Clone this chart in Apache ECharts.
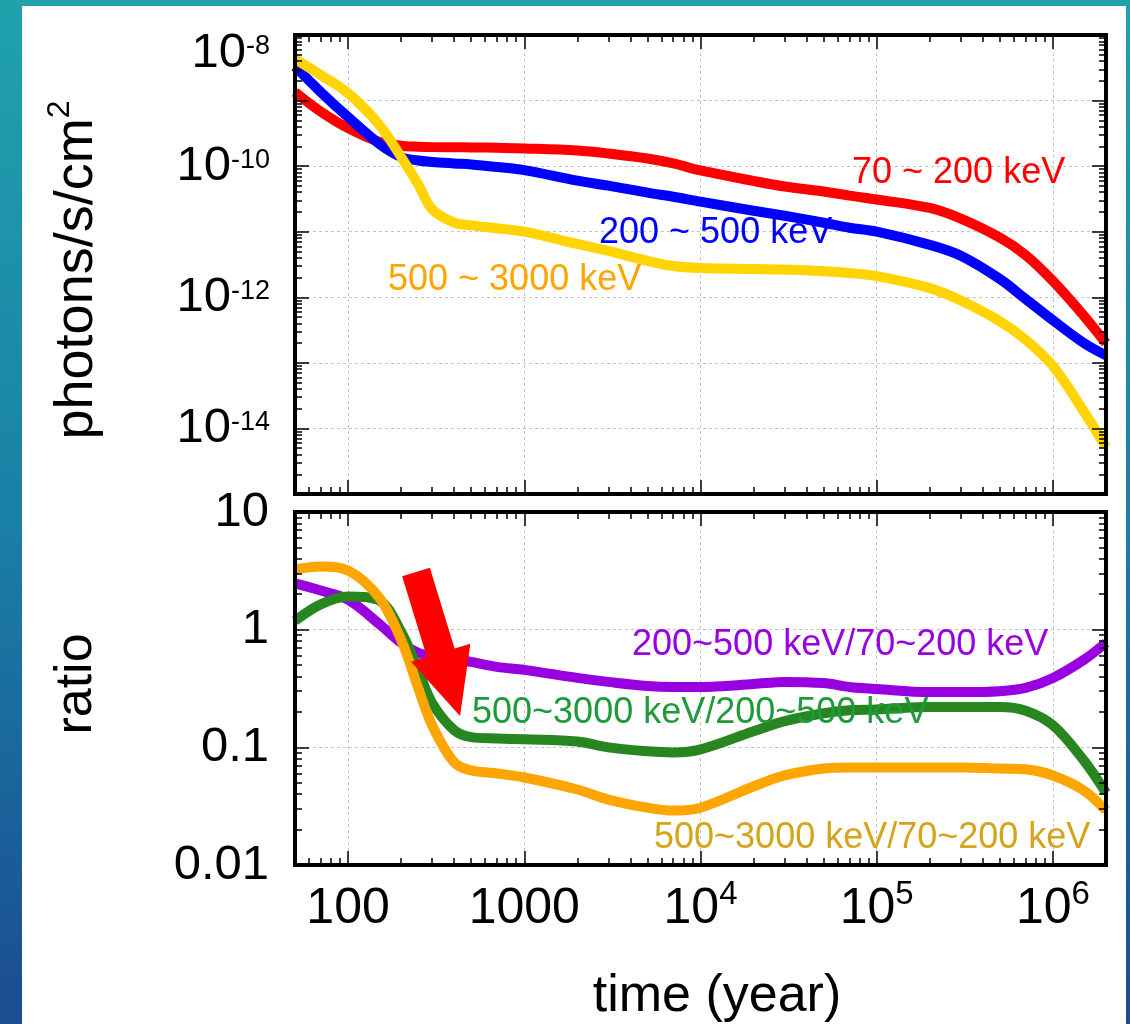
<!DOCTYPE html>
<html>
<head>
    <meta charset="utf-8">
    <title>photon flux and ratio</title>
    <script src="https://cdn.jsdelivr.net/npm/echarts@6/dist/echarts.min.js"></script>
    <style>
        html, body { margin: 0; padding: 0; }
        #main { width: 1130px; height: 1024px; }
    </style>
</head>
<body>
    <div id="main"></div>
    <script type="text/javascript">
        // time (year), shared by every curve
        var timeYears = [50, 70, 100, 150, 200, 250, 300, 400, 500, 700, 1000, 2000, 3000, 5000, 7000,
            1e4, 2e4, 3e4, 5e4, 7e4, 1e5, 2e5, 3e5, 5e5, 7e5, 1e6, 1.5e6, 2e6];

        // photons/s/cm2
        var flux70to200 = [1.35e-9, 6.8e-10, 3.8e-10, 2.35e-10, 2.05e-10, 1.98e-10, 1.95e-10, 1.94e-10, 1.93e-10, 1.9e-10, 1.86e-10,
            1.73e-10, 1.56e-10, 1.31e-10, 1.1e-10, 8.6e-11, 5.95e-11, 4.9e-11, 4.1e-11, 3.55e-11, 3.1e-11, 2.3e-11,
            1.58e-11, 8.1e-12, 4.4e-12, 1.77e-12, 5.2e-13, 2.0e-13];
        var flux200to500 = [3.3e-9, 1.35e-9, 5.6e-10, 2.2e-10, 1.38e-10, 1.22e-10, 1.16e-10, 1.1e-10, 1.06e-10, 9.7e-11, 8.7e-11,
            6.0e-11, 5.05e-11, 3.94e-11, 3.42e-11, 2.87e-11, 2.09e-11, 1.75e-11, 1.37e-11, 1.15e-11, 1.0e-11, 6.3e-12,
            4.3e-12, 1.9e-12, 9.4e-13, 4.46e-13, 2.0e-13, 1.3e-13];
        var flux500to3000 = [4.3e-9, 2.45e-9, 1.3e-9, 4.3e-10, 1.38e-10, 5.3e-11, 2.2e-11, 1.38e-11, 1.25e-11, 1.13e-11, 1.0e-11,
            6.5e-12, 5.1e-12, 3.6e-12, 3.0e-12, 2.8e-12, 2.7e-12, 2.65e-12, 2.5e-12, 2.34e-12, 2.1e-12, 1.38e-12,
            8.9e-13, 4.3e-13, 2.25e-13, 8.9e-14, 1.8e-14, 5.2e-15];

        // ratios
        var ratioMidLow = [2.47, 2.15, 1.8, 1.12, 0.774, 0.636, 0.6, 0.565, 0.532, 0.483, 0.455,
            0.389, 0.36, 0.332, 0.326, 0.326, 0.345, 0.36, 0.352, 0.326, 0.313, 0.295,
            0.295, 0.3, 0.32, 0.389, 0.555, 0.774];
        var ratioHighMid = [1.19, 1.64, 1.91, 1.77, 0.96, 0.455, 0.238, 0.14, 0.122, 0.119, 0.117,
            0.112, 0.1, 0.0925, 0.0905, 0.096, 0.137, 0.167, 0.195, 0.207, 0.21, 0.22,
            0.22, 0.22, 0.205, 0.154, 0.077, 0.041];
        var ratioHighLow = [3.26, 3.45, 3.19, 1.88, 0.82, 0.32, 0.154, 0.0745, 0.0636, 0.06, 0.0554,
            0.0438, 0.036, 0.0307, 0.029, 0.0307, 0.0465, 0.0577, 0.066, 0.0675, 0.0675, 0.0675,
            0.0675, 0.066, 0.065, 0.0577, 0.0429, 0.029];

        // tick labels
        var xTickValues = [100, 1000, 1e4, 1e5, 1e6];
        var xTickLabels = ['100', '1000', '10^4', '10^5', '10^6'];
        var fluxTickValues = [1e-14, 1e-12, 1e-10, 1e-8];
        var fluxTickLabels = ['10^-14', '10^-12', '10^-10', '10^-8'];
        var ratioTickValues = [0.01, 0.1, 1, 10];
        var ratioTickLabels = ['0.01', '0.1', '1', '10'];

        // arrow, in (time, ratio)
        var arrowTail = [243, 3.09];
        var arrowTip = [432, 0.185];

        var FONT = 'Arial, "Liberation Sans", sans-serif';

        function decades(lo, hi) {
            var a = [];
            for (var e = lo; e <= hi; e++) a.push(Math.pow(10, e));
            return a;
        }
        function minors(lo, hi, min, max) {
            var a = [];
            for (var e = lo; e <= hi; e++) {
                for (var k = 2; k <= 9; k++) {
                    var v = k * Math.pow(10, e);
                    if (v > min && v < max) a.push(v);
                }
            }
            return a;
        }

        function toRich(label) {
            var p = label.split('^');
            if (p.length === 2) return '{b|' + p[0] + '}{s|' + p[1] + '}';
            return '{b|' + label + '}';
        }
        function makeFormatter(values, labels) {
            return function (v) {
                for (var i = 0; i < values.length; i++) {
                    if (Math.abs(Math.log10(v) - Math.log10(values[i])) < 1e-6) return toRich(labels[i]);
                }
                return '';
            };
        }
        // token "height" sets where a top-aligned exponent sits
        var yRich = {
            b: { fontSize: 49, lineHeight: 36, fontFamily: FONT, color: '#000' },
            s: { fontSize: 27, height: 24, lineHeight: 24, fontFamily: FONT, color: '#000', verticalAlign: 'top' }
        };
        var xRich = {
            b: { fontSize: 50, lineHeight: 36, fontFamily: FONT, color: '#000' },
            s: { fontSize: 33, height: 8, lineHeight: 8, fontFamily: FONT, color: '#000', verticalAlign: 'top' }
        };

        var frameLine = { show: true, lineStyle: { color: '#000', width: 4, cap: 'square' } };
        function ticks(values, len) {
            return { show: true, inside: true, length: len, customValues: values, lineStyle: { color: '#000', width: 1.5 } };
        }

        function axisSet(dim, g, min, max, major, minor, label) {
            var pos = dim === 'x' ? ['bottom', 'top'] : ['left', 'right'];
            var base = {
                type: 'log', logBase: 10, gridIndex: g, min: min, max: max, z: 10,
                axisLabel: { show: false }, splitLine: { show: false },
                axisLine: { show: false }, axisTick: { show: false }
            };
            return [
                Object.assign({}, base, { position: pos[0], axisLine: frameLine, axisTick: ticks(major, 14), axisLabel: label || { show: false } }),
                Object.assign({}, base, {
                    position: pos[0], z: 0,
                    axisTick: { show: true, customValues: major, length: 0, lineStyle: { color: 'rgba(0,0,0,0)' } },
                    splitLine: { show: true, lineStyle: { color: '#c4c4c4', width: 1, type: [3, 3] } }
                }),
                Object.assign({}, base, { position: pos[0], axisTick: ticks(minor, 7) }),
                Object.assign({}, base, { position: pos[1], axisLine: frameLine, axisTick: ticks(major, 14) }),
                Object.assign({}, base, { position: pos[1], axisTick: ticks(minor, 7) })
            ];
        }

        var xMajor = decades(2, 6), xMinor = minors(1, 6, 50, 2e6);
        var fluxMajor = decades(-15, -8), fluxMinor = minors(-15, -9, 1e-15, 1e-8);
        var ratioMajor = decades(-2, 1), ratioMinor = minors(-2, 0, 0.01, 10);

        var xLabel = {
            show: true, customValues: xTickValues, margin: 26,
            formatter: makeFormatter(xTickValues, xTickLabels), rich: xRich
        };
        var fluxLabel = {
            show: true, customValues: fluxTickValues, margin: 25,
            verticalAlignMaxLabel: 'top',
            formatter: makeFormatter(fluxTickValues, fluxTickLabels), rich: yRich
        };
        var ratioLabel = {
            show: true, customValues: ratioTickValues, margin: 26,
            formatter: makeFormatter(ratioTickValues, ratioTickLabels), rich: yRich
        };

        var xAxes = axisSet('x', 0, 50, 2e6, xMajor, xMinor, null)
            .concat(axisSet('x', 1, 50, 2e6, xMajor, xMinor, xLabel));
        var yAxes = axisSet('y', 0, 1e-15, 1e-8, fluxMajor, fluxMinor, fluxLabel)
            .concat(axisSet('y', 1, 0.01, 10, ratioMajor, ratioMinor, ratioLabel));

        function pairs(vals) {
            return timeYears.map(function (t, i) { return [t, vals[i]]; });
        }
        function curve(name, vals, color, g, width) {
            return {
                name: name, type: 'line', data: pairs(vals),
                xAxisIndex: g * 5, yAxisIndex: g * 5,
                smooth: 0.35, showSymbol: false, symbol: 'none',
                lineStyle: { color: color, width: width, cap: 'butt', join: 'round' },
                z: 3, animation: false
            };
        }

        var myChart = echarts.init(document.getElementById('main'), null, { renderer: 'canvas' });

        var option = {
            animation: false,
            backgroundColor: '#ffffff',
            grid: [
                { left: 295, top: 35, width: 811, height: 459, containLabel: false, outerBoundsMode: 'none' },
                { left: 295, top: 512, width: 811, height: 353, containLabel: false, outerBoundsMode: 'none' }
            ],
            xAxis: xAxes,
            yAxis: yAxes,
            series: [
                curve('70 ~ 200 keV', flux70to200, '#ff0000', 0, 10),
                curve('200 ~ 500 keV', flux200to500, '#0000ff', 0, 10),
                curve('500 ~ 3000 keV', flux500to3000, '#ffd400', 0, 10),
                curve('200~500 keV/70~200 keV', ratioMidLow, '#9900e0', 1, 10),
                curve('500~3000 keV/200~500 keV', ratioHighMid, '#27861f', 1, 10),
                curve('500~3000 keV/70~200 keV', ratioHighLow, '#ffa500', 1, 10)
            ]
        };
        myChart.setOption(option);

        // text labels in the plots (pixel anchors: left edge, middle)
        var notes = [
            { text: '70 ~ 200 keV', color: '#ff0000', x: 852, y: 173 },
            { text: '200 ~ 500 keV', color: '#0000ff', x: 599, y: 233 },
            { text: '500 ~ 3000 keV', color: '#ffa500', x: 388, y: 280 },
            { text: '200~500 keV/70~200 keV', color: '#9900e0', x: 632, y: 645 },
            { text: '500~3000 keV/200~500 keV', color: '#1f9a3a', x: 472, y: 713 },
            { text: '500~3000 keV/70~200 keV', color: '#d4a41a', x: 654, y: 838 }
        ];

        var elements = [
            {
                type: 'rect', id: 'bg', z: -100, silent: true,
                shape: { x: 0, y: 0, width: 1130, height: 1024 },
                style: {
                    fill: new echarts.graphic.LinearGradient(0, 0, 0, 1, [
                        { offset: 0, color: '#20a2ad' },
                        { offset: 0.5, color: '#1a80a6' },
                        { offset: 1, color: '#1b4c92' }
                    ])
                }
            },
            {
                type: 'rect', id: 'panel', z: -99, silent: true,
                shape: { x: 22, y: 6, width: 1104, height: 1018 },
                style: { fill: '#ffffff' }
            },
            {
                type: 'text', id: 'ytitle1', z: 100, x: 77, y: 270, rotation: Math.PI / 2,
                style: {
                    text: '{a|photons/s/cm}{s|2}', align: 'center', verticalAlign: 'middle',
                    rich: {
                        a: { fontSize: 54, lineHeight: 40, fontFamily: FONT, fill: '#000' },
                        s: { fontSize: 32, height: 6, lineHeight: 6, fontFamily: FONT, fill: '#000', verticalAlign: 'top' }
                    }
                }
            },
            {
                type: 'text', id: 'ytitle2', z: 100, x: 77, y: 684, rotation: Math.PI / 2,
                style: { text: 'ratio', align: 'center', verticalAlign: 'middle', fontSize: 52, fontFamily: FONT, fill: '#000' }
            },
            {
                type: 'text', id: 'xtitle', z: 100, x: 717, y: 997,
                style: { text: 'time (year)', align: 'center', verticalAlign: 'middle', fontSize: 52, fontFamily: FONT, fill: '#000' }
            }
        ];
        notes.forEach(function (n, i) {
            elements.push({
                type: 'text', id: 'note' + i, z: 100, x: n.x, y: n.y,
                style: { text: n.text, align: 'left', verticalAlign: 'middle', fontSize: 36, fontFamily: FONT, fill: n.color }
            });
        });

        // arrow from data coordinates on the ratio panel
        var finder = { xAxisIndex: 5, yAxisIndex: 5 };
        var p0 = myChart.convertToPixel(finder, arrowTail);
        var p1 = myChart.convertToPixel(finder, arrowTip);
        var dx = p1[0] - p0[0], dy = p1[1] - p0[1];
        var len = Math.sqrt(dx * dx + dy * dy);
        var ux = dx / len, uy = dy / len, nx = -uy, ny = ux;
        var shaftHalf = 14.5, headHalf = 31, headLen = 66;
        var bx = p1[0] - ux * headLen, by = p1[1] - uy * headLen;
        elements.push({
            type: 'polygon', id: 'arrow', z: 101,
            shape: {
                points: [
                    [p0[0] + nx * shaftHalf, p0[1] + ny * shaftHalf],
                    [bx + nx * shaftHalf, by + ny * shaftHalf],
                    [bx + nx * headHalf, by + ny * headHalf],
                    [p1[0], p1[1]],
                    [bx - nx * headHalf, by - ny * headHalf],
                    [bx - nx * shaftHalf, by - ny * shaftHalf],
                    [p0[0] - nx * shaftHalf, p0[1] - ny * shaftHalf]
                ]
            },
            style: { fill: '#ff0000' }
        });

        myChart.setOption({ graphic: elements });
    </script>
</body>
</html>
